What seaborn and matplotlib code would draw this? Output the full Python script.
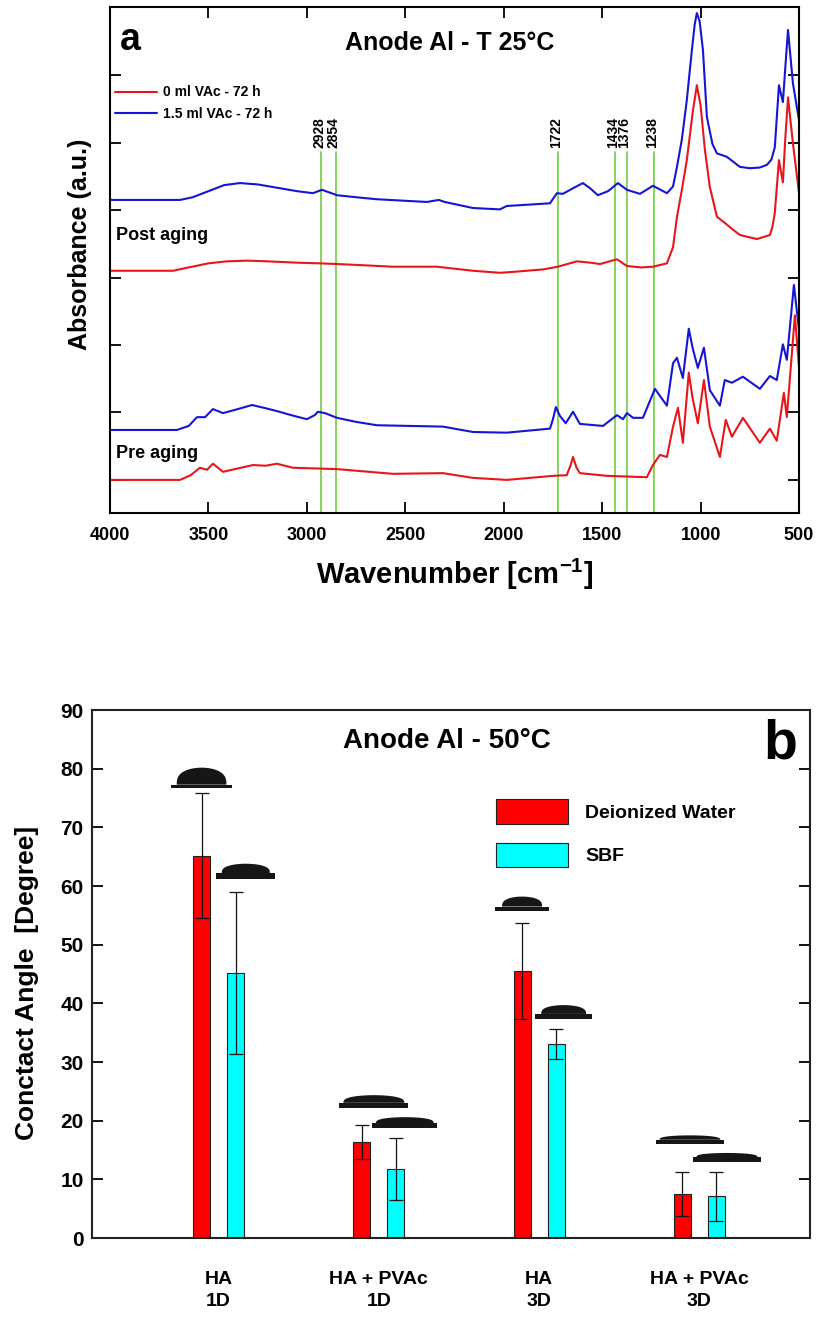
import numpy as np
import pandas as pd
import matplotlib
matplotlib.use("Agg")
import matplotlib.pyplot as plt
import seaborn as sns
from matplotlib.patches import Polygon, Rectangle
from matplotlib.lines import Line2D

# ---------------- Panel a : FTIR spectra (wavenumber, absorbance a.u.) ----------------
post_blue = [(4000, 4.15), (3644, 4.15), (3580, 4.19), (3500, 4.28), (3420, 4.37), (3340, 4.40),
             (3250, 4.38), (3150, 4.33), (3050, 4.28), (2969, 4.25), (2923, 4.30), (2847, 4.22),
             (2750, 4.19), (2644, 4.16), (2390, 4.12), (2330, 4.15), (2300, 4.12), (2156, 4.03),
             (2019, 4.01), (1985, 4.06), (1765, 4.10), (1730, 4.25), (1700, 4.24), (1650, 4.32),
             (1598, 4.40), (1560, 4.32), (1522, 4.22), (1470, 4.28), (1420, 4.40), (1374, 4.30),
             (1308, 4.24), (1242, 4.36), (1171, 4.25), (1140, 4.35), (1120, 4.64), (1095, 5.05),
             (1070, 5.63), (1045, 6.35), (1030, 6.75), (1019, 6.92), (1005, 6.80), (988, 6.37),
             (968, 5.38), (940, 4.98), (917, 4.84), (867, 4.79), (800, 4.64), (750, 4.62),
             (700, 4.63), (663, 4.67), (640, 4.75), (623, 4.93), (602, 5.85), (582, 5.60),
             (570, 6.10), (556, 6.67), (531, 5.88), (500, 5.33)]

post_red = [(4000, 3.10), (3680, 3.10), (3600, 3.15), (3500, 3.21), (3406, 3.24), (3300, 3.25),
            (3203, 3.24), (3050, 3.22), (2933, 3.21), (2847, 3.20), (2700, 3.18), (2562, 3.16),
            (2339, 3.16), (2156, 3.10), (2019, 3.07), (1968, 3.08), (1800, 3.12), (1725, 3.16),
            (1628, 3.24), (1560, 3.22), (1511, 3.20), (1425, 3.27), (1374, 3.17), (1300, 3.15),
            (1242, 3.16), (1171, 3.21), (1140, 3.45), (1120, 3.90), (1095, 4.30), (1070, 4.74),
            (1040, 5.45), (1019, 5.85), (1000, 5.55), (978, 4.89), (953, 4.34), (917, 3.90),
            (877, 3.81), (840, 3.72), (800, 3.63), (714, 3.57), (648, 3.63), (635, 3.75),
            (623, 3.96), (602, 4.74), (582, 4.41), (570, 5.05), (556, 5.67), (531, 4.99),
            (500, 4.25)]

pre_blue = [(4000, 0.74), (3660, 0.74), (3600, 0.80), (3558, 0.93), (3517, 0.93), (3477, 1.05),
            (3426, 0.99), (3350, 1.05), (3279, 1.11), (3220, 1.07), (3152, 1.02), (3080, 0.96),
            (3000, 0.90), (2960, 0.96), (2944, 1.01), (2908, 0.99), (2847, 0.92), (2750, 0.86),
            (2644, 0.81), (2309, 0.79), (2156, 0.71), (1985, 0.70), (1765, 0.76), (1750, 0.90),
            (1735, 1.08), (1715, 0.95), (1685, 0.84), (1648, 1.01), (1613, 0.83), (1496, 0.80),
            (1425, 0.96), (1394, 0.90), (1374, 0.99), (1343, 0.92), (1293, 0.92), (1232, 1.35),
            (1171, 1.10), (1140, 1.73), (1120, 1.81), (1090, 1.51), (1060, 2.24), (1040, 1.95),
            (1014, 1.66), (983, 1.96), (953, 1.33), (902, 1.10), (877, 1.48), (841, 1.44),
            (785, 1.53), (699, 1.35), (648, 1.54), (613, 1.48), (582, 2.01), (562, 1.78),
            (526, 2.89), (500, 2.22)]

pre_red = [(4000, 0.00), (3644, 0.00), (3590, 0.07), (3543, 0.18), (3507, 0.15), (3477, 0.24),
           (3426, 0.12), (3350, 0.17), (3274, 0.22), (3210, 0.21), (3152, 0.24), (3071, 0.18),
           (2847, 0.16), (2563, 0.09), (2309, 0.10), (2156, 0.03), (1985, 0.00), (1750, 0.06),
           (1680, 0.07), (1660, 0.22), (1648, 0.34), (1630, 0.18), (1613, 0.10), (1476, 0.06),
           (1273, 0.04), (1242, 0.22), (1207, 0.37), (1171, 0.34), (1140, 0.79), (1115, 1.07),
           (1090, 0.55), (1060, 1.59), (1040, 1.20), (1014, 0.84), (983, 1.48), (953, 0.79),
           (902, 0.34), (872, 0.89), (841, 0.64), (785, 0.92), (699, 0.55), (648, 0.76),
           (613, 0.58), (577, 1.29), (562, 0.93), (521, 2.44), (500, 1.67)]

band_wn = [2928, 2854, 1722, 1434, 1376, 1238]
series_labels = ["0 ml VAc - 72 h", "1.5 ml VAc - 72 h"]
x_ticks_a = [4000, 3500, 3000, 2500, 2000, 1500, 1000, 500]

# ---------------- Panel b : contact angle ----------------
categories = ["HA\n1D", "HA + PVAc\n1D", "HA\n3D", "HA + PVAc\n3D"]
media = ["Deionized Water", "SBF"]
water_mean = [65.2, 16.3, 45.5, 7.5]
water_err = [10.6, 2.9, 8.2, 3.8]
sbf_mean = [45.2, 11.8, 33.1, 7.1]
sbf_err = [13.8, 5.3, 2.6, 4.2]

# droplet sketches: category index, medium index, level of base line
drop_cat = [0, 0, 1, 1, 2, 2, 3, 3]
drop_med = [0, 1, 0, 1, 0, 1, 0, 1]
drop_level = [77.0, 61.7, 22.6, 19.2, 56.1, 37.8, 16.4, 13.4]

# ---------------- style ----------------
sns.set_theme(style="ticks")
plt.rcParams["font.family"] = ["Liberation Sans", "DejaVu Sans"]
plt.rcParams["font.weight"] = "bold"
plt.rcParams["axes.labelweight"] = "bold"
plt.rcParams["text.color"] = "black"
plt.rcParams["axes.labelcolor"] = "black"
plt.rcParams["xtick.color"] = "black"
plt.rcParams["ytick.color"] = "black"
plt.rcParams["mathtext.fontset"] = "custom"
plt.rcParams["mathtext.rm"] = "Liberation Sans:bold"
plt.rcParams["mathtext.bf"] = "Liberation Sans:bold"
plt.rcParams["mathtext.default"] = "rm"

RED = "#e8161b"
BLUE = "#1515d6"
GREEN = "#7fd04e"

fig = plt.figure(figsize=(8.16, 13.2), dpi=100)
ax1 = fig.add_axes([0.1348, 0.6114, 0.8444, 0.3833])
ax2 = fig.add_axes([0.1127, 0.0621, 0.8799, 0.4000])

# ---- panel a
for curve, col in [(post_blue, BLUE), (post_red, RED), (pre_blue, BLUE), (pre_red, RED)]:
    wn = [p[0] for p in curve]
    ab = [p[1] for p in curve]
    sns.lineplot(x=wn, y=ab, color=col, lw=1.5, ax=ax1, legend=False, estimator=None)

ax1.set_xlim(4000, 500)
ax1.set_ylim(-0.49, 7.01)
ax1.set_xticks(x_ticks_a)
ax1.set_xticklabels([str(t) for t in x_ticks_a], fontsize=13, fontweight="bold")
ax1.set_yticks(range(0, 7))
ax1.tick_params(axis="both", direction="in", top=True, right=True, length=8, width=1.3,
                labelleft=False, pad=10, colors="black")
for s in ax1.spines.values():
    s.set_linewidth(1.5)
    s.set_color("black")

for w in band_wn:
    ax1.axvline(w, ymin=0, ymax=0.713, color=GREEN, lw=1.3, zorder=1)
    ax1.text(w + 10, 4.92, str(w), rotation=90, ha="center", va="bottom",
             fontsize=10, fontweight="bold", color="black")

ax1.set_xlabel("Wavenumber [cm$^{-1}$]", fontsize=21, fontweight="bold", labelpad=9)
ax1.set_ylabel("Absorbance (a.u.)", fontsize=18, fontweight="bold")
ax1.yaxis.set_label_coords(-0.026, 0.53)

ax1.text(0.0145, 0.915, "a", transform=ax1.transAxes, fontsize=27, fontweight="bold",
         ha="left", va="baseline")
ax1.text(0.4935, 0.915, "Anode Al - T 25°C", transform=ax1.transAxes, fontsize=18,
         fontweight="bold", ha="center", va="baseline")
ax1.text(0.008, 0.5395, "Post aging", transform=ax1.transAxes, fontsize=13,
         fontweight="bold", ha="left", va="baseline")
ax1.text(0.008, 0.1087, "Pre aging", transform=ax1.transAxes, fontsize=13,
         fontweight="bold", ha="left", va="baseline")

handles_a = [Line2D([], [], color=RED, lw=1.5), Line2D([], [], color=BLUE, lw=1.5)]
ax1.legend(handles_a, series_labels, loc="upper left", bbox_to_anchor=(0.0073, 0.845),
           frameon=False, borderpad=0, borderaxespad=0, handlelength=3.0,
           handletextpad=0.45, labelspacing=0.55, prop={"size": 10, "weight": "bold"})

# ---- panel b
df = pd.DataFrame({
    "Sample": categories * 2,
    "Medium": [media[0]] * len(categories) + [media[1]] * len(categories),
    "Angle": water_mean + sbf_mean,
})
sns.barplot(data=df, x="Sample", y="Angle", hue="Medium", palette=["#ff0000", "#00ffff"],
            saturation=1, width=0.424, gap=0.5, errorbar=None, edgecolor="#202020",
            linewidth=0.8, ax=ax2, zorder=2)

errs = [water_err, sbf_err]
bar_containers = list(ax2.containers)
bar_x = []
for ci, cont in enumerate(bar_containers):
    xs = [p.get_x() + p.get_width() / 2 for p in cont.patches]
    hs = [p.get_height() for p in cont.patches]
    bar_x.append(xs)
    ax2.errorbar(xs, hs, yerr=errs[ci], fmt="none", ecolor="#111111", elinewidth=0.9,
                 capsize=4.7, capthick=0.9, zorder=3)

# droplet sketches (decorative)
drop_shift = [0.0, 0.064, 0.075, 0.056, 0.0, 0.047, 0.047, 0.066]
drop_base_w = [0.38, 0.37, 0.43, 0.405, 0.34, 0.36, 0.42, 0.42]
drop_dome_w = [0.31, 0.30, 0.38, 0.36, 0.25, 0.28, 0.38, 0.38]
drop_dome_h = [2.9, 1.6, 1.3, 1.0, 1.7, 1.5, 0.75, 0.7]
drop_thick = [0.55, 1.0, 0.9, 0.8, 0.8, 0.8, 0.7, 0.8]
t = np.linspace(0, np.pi, 60)
for k in range(len(drop_cat)):
    xc = bar_x[drop_med[k]][drop_cat[k]] + drop_shift[k]
    yb = drop_level[k]
    th = drop_thick[k]
    ax2.add_patch(Rectangle((xc - drop_base_w[k] / 2, yb - th / 2), drop_base_w[k], th,
                            facecolor="#161616", edgecolor="none", zorder=4))
    px = xc + drop_dome_w[k] / 2 * np.cos(t)
    py = yb + th / 2 + drop_dome_h[k] * np.sin(t) ** 0.7
    ax2.add_patch(Polygon(np.column_stack([px, py]), closed=True, facecolor="#161616",
                          edgecolor="none", zorder=4))

ax2.set_xlim(-0.79, 3.69)
ax2.set_ylim(0, 90)
ax2.set_yticks(range(0, 91, 10))
ax2.set_yticklabels([str(v) for v in range(0, 91, 10)], fontsize=15, fontweight="bold")
ax2.set_xticks(range(len(categories)))
ax2.set_xticklabels(categories, fontsize=14, fontweight="bold", linespacing=1.35)
ax2.tick_params(axis="y", direction="in", right=True, length=8, width=1.3, pad=6, colors="black")
ax2.tick_params(axis="x", length=0, pad=24, colors="black")
for s in ax2.spines.values():
    s.set_linewidth(1.5)
    s.set_color("#222222")
ax2.set_xlabel("")
ax2.set_ylabel("Conctact Angle  [Degree]", fontsize=19, fontweight="bold")
ax2.yaxis.set_label_coords(-0.074, 0.483)

ax2.text(0.4944, 0.928, "Anode Al - 50°C", transform=ax2.transAxes, fontsize=20,
         fontweight="bold", ha="center", va="baseline")
ax2.text(0.982, 0.909, "b", transform=ax2.transAxes, fontsize=40, fontweight="bold",
         ha="right", va="baseline")

h, l = ax2.get_legend_handles_labels()
ax2.legend(h, l, loc="upper left", bbox_to_anchor=(0.5627, 0.8314), frameon=False,
           borderpad=0, borderaxespad=0, handlelength=3.7, handleheight=1.6,
           handletextpad=0.88, labelspacing=0.95, prop={"size": 14, "weight": "bold"})

fig.savefig("out.png", dpi=100)
